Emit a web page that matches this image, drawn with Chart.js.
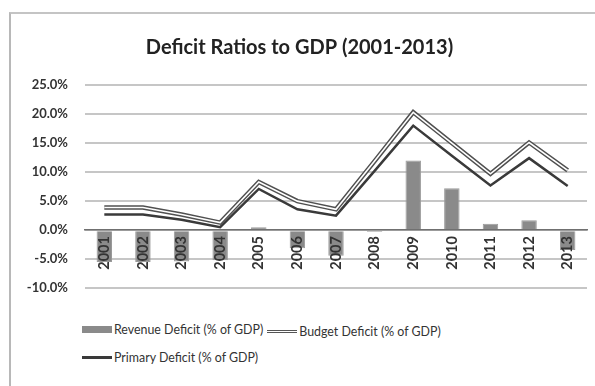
<!DOCTYPE html>
<html>
<head>
<meta charset="utf-8">
<script src="https://cdn.jsdelivr.net/npm/chart.js@4.4.0/dist/chart.umd.min.js"></script>
<style>
  body { margin: 0; width: 595px; height: 386px; background: #fff; position: relative; overflow: hidden; font-family: Lato, "Open Sans", sans-serif; }
  #frame { position: absolute; left: 9px; top: 12px; width: 600px; height: 380px; border-left: 2px solid #b8b8b8; border-top: 2px solid #c4c4c4; }
  #wrap { position: absolute; left: 0; top: 0; width: 595px; height: 313px; }
  #legend { position: absolute; left: 82px; top: 320px; width: 460px; font-size: 12.4px; color: #333; }
  .item { display: inline-flex; align-items: center; height: 18px; margin-right: 4px; }
  .row { height: 27px; }
  .sw { display: inline-block; width: 30px; margin-right: 2px; }
  .sw.bar { height: 7px; background: #8a8a8a; }
  .sw.dbl { height: 1px; border-top: 1.5px solid #555; border-bottom: 1.5px solid #555; background: #fff; }
  .sw.solid { height: 3px; background: #3a3a3a; }
</style>
</head>
<body>
<div id="frame"></div>
<div id="wrap"><canvas id="chart" width="595" height="313"></canvas></div>
<div id="legend"></div>
<script>
// Data
const years = ["2001", "2002", "2003", "2004", "2005", "2006", "2007", "2008", "2009", "2010", "2011", "2012", "2013"];
const revenueDeficit = [-5.5, -5.5, -5.4, -5.2, 0.5, -3.1, -4.4, -0.3, 12.0, 7.2, 1.1, 1.7, -3.4];
const budgetDeficit = [3.9, 3.9, 2.7, 1.3, 8.3, 5.0, 3.6, 11.9, 20.3, 15.0, 9.7, 15.1, 10.3];
const primaryDeficit = [2.7, 2.7, 1.8, 0.5, 7.1, 3.6, 2.5, 10.2, 18.0, 12.8, 7.7, 12.4, 7.6];
const seriesNames = ["Revenue Deficit (% of GDP)", "Budget Deficit (% of GDP)", "Primary Deficit (% of GDP)"];
const yTicks = [-10, -5, 0, 5, 10, 15, 20, 25];

const fontFamily = "Lato, 'Open Sans', sans-serif";

// Build legend (Excel-style, wraps and left aligned)
function buildLegend() {
  const swatches = ["bar", "dbl", "solid"];
  let html = '<div class="row">';
  seriesNames.forEach((name, i) => {
    if (i === 2) html += '</div><div class="row">';
    html += `<span class="item"><span class="sw ${swatches[i]}"></span>${name}</span>`;
  });
  html += "</div>";
  document.getElementById("legend").innerHTML = html;
}

new Chart(document.getElementById("chart"), {
  type: "bar",
  data: {
    labels: years,
    datasets: [
      {
        label: seriesNames[2],
        type: "line",
        data: primaryDeficit,
        borderColor: "#3a3a3a",
        borderWidth: 2.5,
        pointRadius: 0,
        tension: 0,
        order: 2,
      },
      {
        label: seriesNames[1],
        type: "line",
        data: budgetDeficit,
        borderColor: "#505050",
        borderWidth: 4.5,
        pointRadius: 0,
        tension: 0,
        order: 1,
      },
      {
        // white core of the double line
        label: "budget-inner",
        type: "line",
        data: budgetDeficit,
        borderColor: "#ffffff",
        borderWidth: 1.6,
        pointRadius: 0,
        tension: 0,
        order: 0,
      },
      {
        label: seriesNames[0],
        data: revenueDeficit,
        backgroundColor: "#8a8a8a",
        borderColor: "#9a9a9a",
        borderWidth: 1,
        barPercentage: 0.4,
        categoryPercentage: 1,
        order: 3,
      },
    ],
  },
  options: {
    responsive: false,
    animation: false,
    layout: { padding: { left: 12, right: 8, top: 36, bottom: 0 } },
    plugins: {
      legend: { display: false },
      tooltip: { enabled: false },
      title: {
        display: true,
        text: "Deficit Ratios to GDP (2001-2013)",
        color: "#222",
        font: { family: fontFamily, size: 20, weight: "bold" },
        padding: { top: 0, bottom: 25 },
      },
    },
    scales: {
      x: {
        position: { y: 0 },
        grid: { display: false, drawTicks: false },
        border: { display: true, color: "#707070", width: 1.5, z: 1 },
        ticks: {
          z: 1,
          autoSkip: false,
          minRotation: 90,
          maxRotation: 90,
          padding: 6,
          color: "#333",
          font: { family: fontFamily, size: 14.5, weight: "bold" },
        },
      },
      y: {
        min: -10,
        max: 25,
        afterBuildTicks: (axis) => {
          axis.ticks = yTicks.map((v) => ({ value: v }));
        },
        afterFit: (axis) => {
          axis.width = 73;
        },
        grid: { color: "#c6c6c6", lineWidth: 2, drawTicks: false },
        border: { display: false },
        ticks: {
          padding: 17,
          color: "#333",
          font: { family: fontFamily, size: 13, weight: "bold" },
          callback: (v) => v.toFixed(1) + "%",
        },
      },
    },
  },
});

buildLegend();
</script>
</body>
</html>
